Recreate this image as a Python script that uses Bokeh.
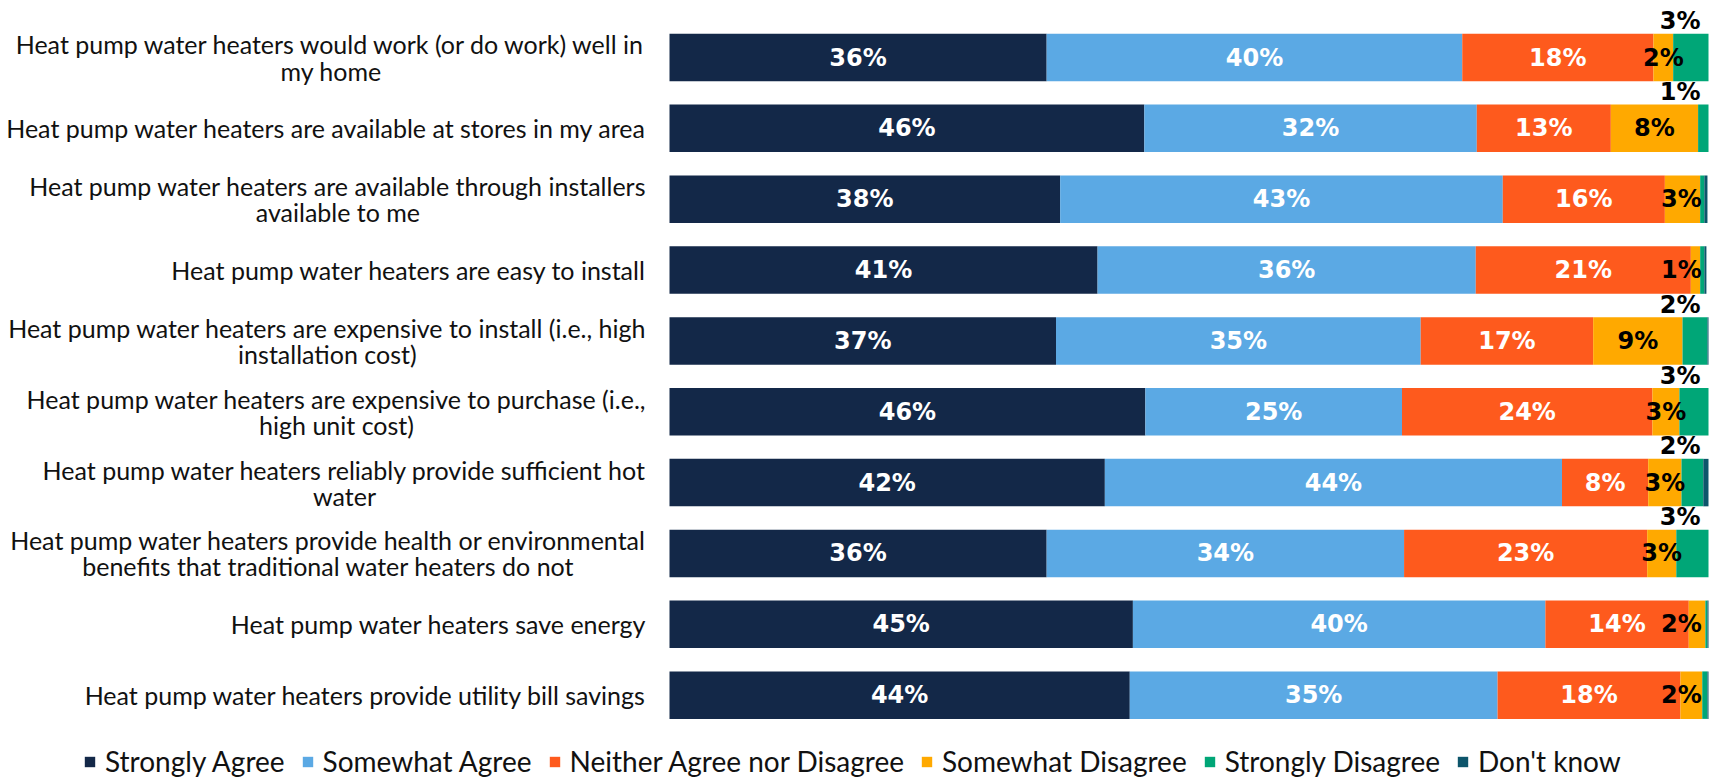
from bokeh.plotting import figure
from bokeh.models import Range1d, ColumnDataSource, Legend, LegendItem
from bokeh.core.properties import value
from bokeh.embed import file_html
from bokeh.resources import INLINE

categories = [
    "Heat pump water heaters would work (or do work) well in\nmy home",
    "Heat pump water heaters are available at stores in my area",
    "Heat pump water heaters are available through installers\navailable to me",
    "Heat pump water heaters are easy to install",
    "Heat pump water heaters are expensive to install (i.e., high\ninstallation cost)",
    "Heat pump water heaters are expensive to purchase (i.e.,\nhigh unit cost)",
    "Heat pump water heaters reliably provide sufficient hot\nwater",
    "Heat pump water heaters provide health or environmental\nbenefits that traditional water heaters do not",
    "Heat pump water heaters save energy",
    "Heat pump water heaters provide utility bill savings",
]
strongly_agree = [36.3, 45.7, 37.6, 41.2, 37.2, 45.8, 41.9, 36.3, 44.6, 44.3]
somewhat_agree = [40.0, 32.0, 42.6, 36.4, 35.1, 24.7, 44.0, 34.4, 39.7, 35.4]
neither = [18.4, 12.9, 15.6, 20.7, 16.6, 24.1, 8.3, 23.4, 13.8, 17.6]
somewhat_disagree = [1.9, 8.4, 3.4, 0.9, 8.6, 2.6, 3.2, 2.8, 1.6, 2.1]
strongly_disagree = [3.4, 1.0, 0.4, 0.4, 2.4, 2.8, 2.1, 3.1, 0.2, 0.5]
dont_know = [0.0, 0.0, 0.3, 0.2, 0.1, 0.0, 0.5, 0.0, 0.1, 0.1]

series_names = ["Strongly Agree", "Somewhat Agree", "Neither Agree nor Disagree",
                "Somewhat Disagree", "Strongly Disagree", "Don't know"]
series_keys = ["sa", "swa", "n", "swd", "sd", "dk"]
colors = ["#132848", "#5ba9e4", "#fe5a1d", "#ffa900", "#00a677", "#0d556b"]
series = [strongly_agree, somewhat_agree, neither, somewhat_disagree, strongly_disagree, dont_know]

n = len(categories)
rows = list(range(n))

W, H = 1717, 778
bar_left_px = 669.0
bar_right_px = 1708.0
px_per_unit = (bar_right_px - bar_left_px) / 100.0
row_top_px = 57.0
row_pitch = 70.85

p = figure(width=W, height=H, output_backend="svg", toolbar_location=None,
           x_range=Range1d(-bar_left_px / px_per_unit, 100 + (W - bar_right_px) / px_per_unit),
           y_range=Range1d((H - row_top_px) / row_pitch, -row_top_px / row_pitch),
           x_axis_location=None, y_axis_location=None, min_border=0)
p.outline_line_color = None
p.xgrid.visible = False
p.ygrid.visible = False

data = {"y": rows}
for k, v in zip(series_keys, series):
    data[k] = v
src = ColumnDataSource(data)
bar_h = 0.67
renderers = p.hbar_stack(series_keys, y="y", height=bar_h, color=colors, line_color=None, source=src)

# category labels
p.text(x=[0] * n, y=rows, text=categories, x_offset=-23, anchor="center_right",
       text_align="center", text_baseline="middle",
       text_font=value("Lato"), text_font_size="25px", text_color="#111111",
       text_line_height=0.87)

# value labels inside the bars
lx, ly, lt, lc = [], [], [], []
max_center = 97.4
for i in rows:
    cum = 0.0
    for j in range(4):
        v = series[j][i]
        c = cum + v / 2
        if j == 3:
            c = min(c, max_center)
        lx.append(c)
        ly.append(i)
        lt.append(f"{round(v)}%")
        lc.append("white" if j < 3 else "black")
        cum += v
p.text(x=lx, y=ly, text=lt, text_color=lc, text_align="center", text_baseline="middle",
       text_font=value("DejaVu Sans"), text_font_style="bold", text_font_size="24px")

# strongly disagree labels above the bars
ax, ay, at = [], [], []
for i in rows:
    v = strongly_disagree[i]
    if v >= 1:
        ax.append(100)
        ay.append(i - bar_h / 2 - 0.176)
        at.append(f"{round(v)}%")
p.text(x=ax, y=ay, text=at, x_offset=-8, text_color="black", text_align="right",
       text_baseline="middle", text_font=value("DejaVu Sans"), text_font_style="bold",
       text_font_size="24px")

legend = Legend(items=[LegendItem(label=nm, renderers=[r]) for nm, r in zip(series_names, renderers)],
                orientation="horizontal", location=(83, 0), glyph_width=13, glyph_height=13,
                label_standoff=9, spacing=16, padding=0, margin=0,
                label_text_font="Lato", label_text_font_size="28px", label_text_color="#111111",
                border_line_color=None, background_fill_alpha=0)
p.add_layout(legend)

open("out.html", "w").write(file_html(p, INLINE))
